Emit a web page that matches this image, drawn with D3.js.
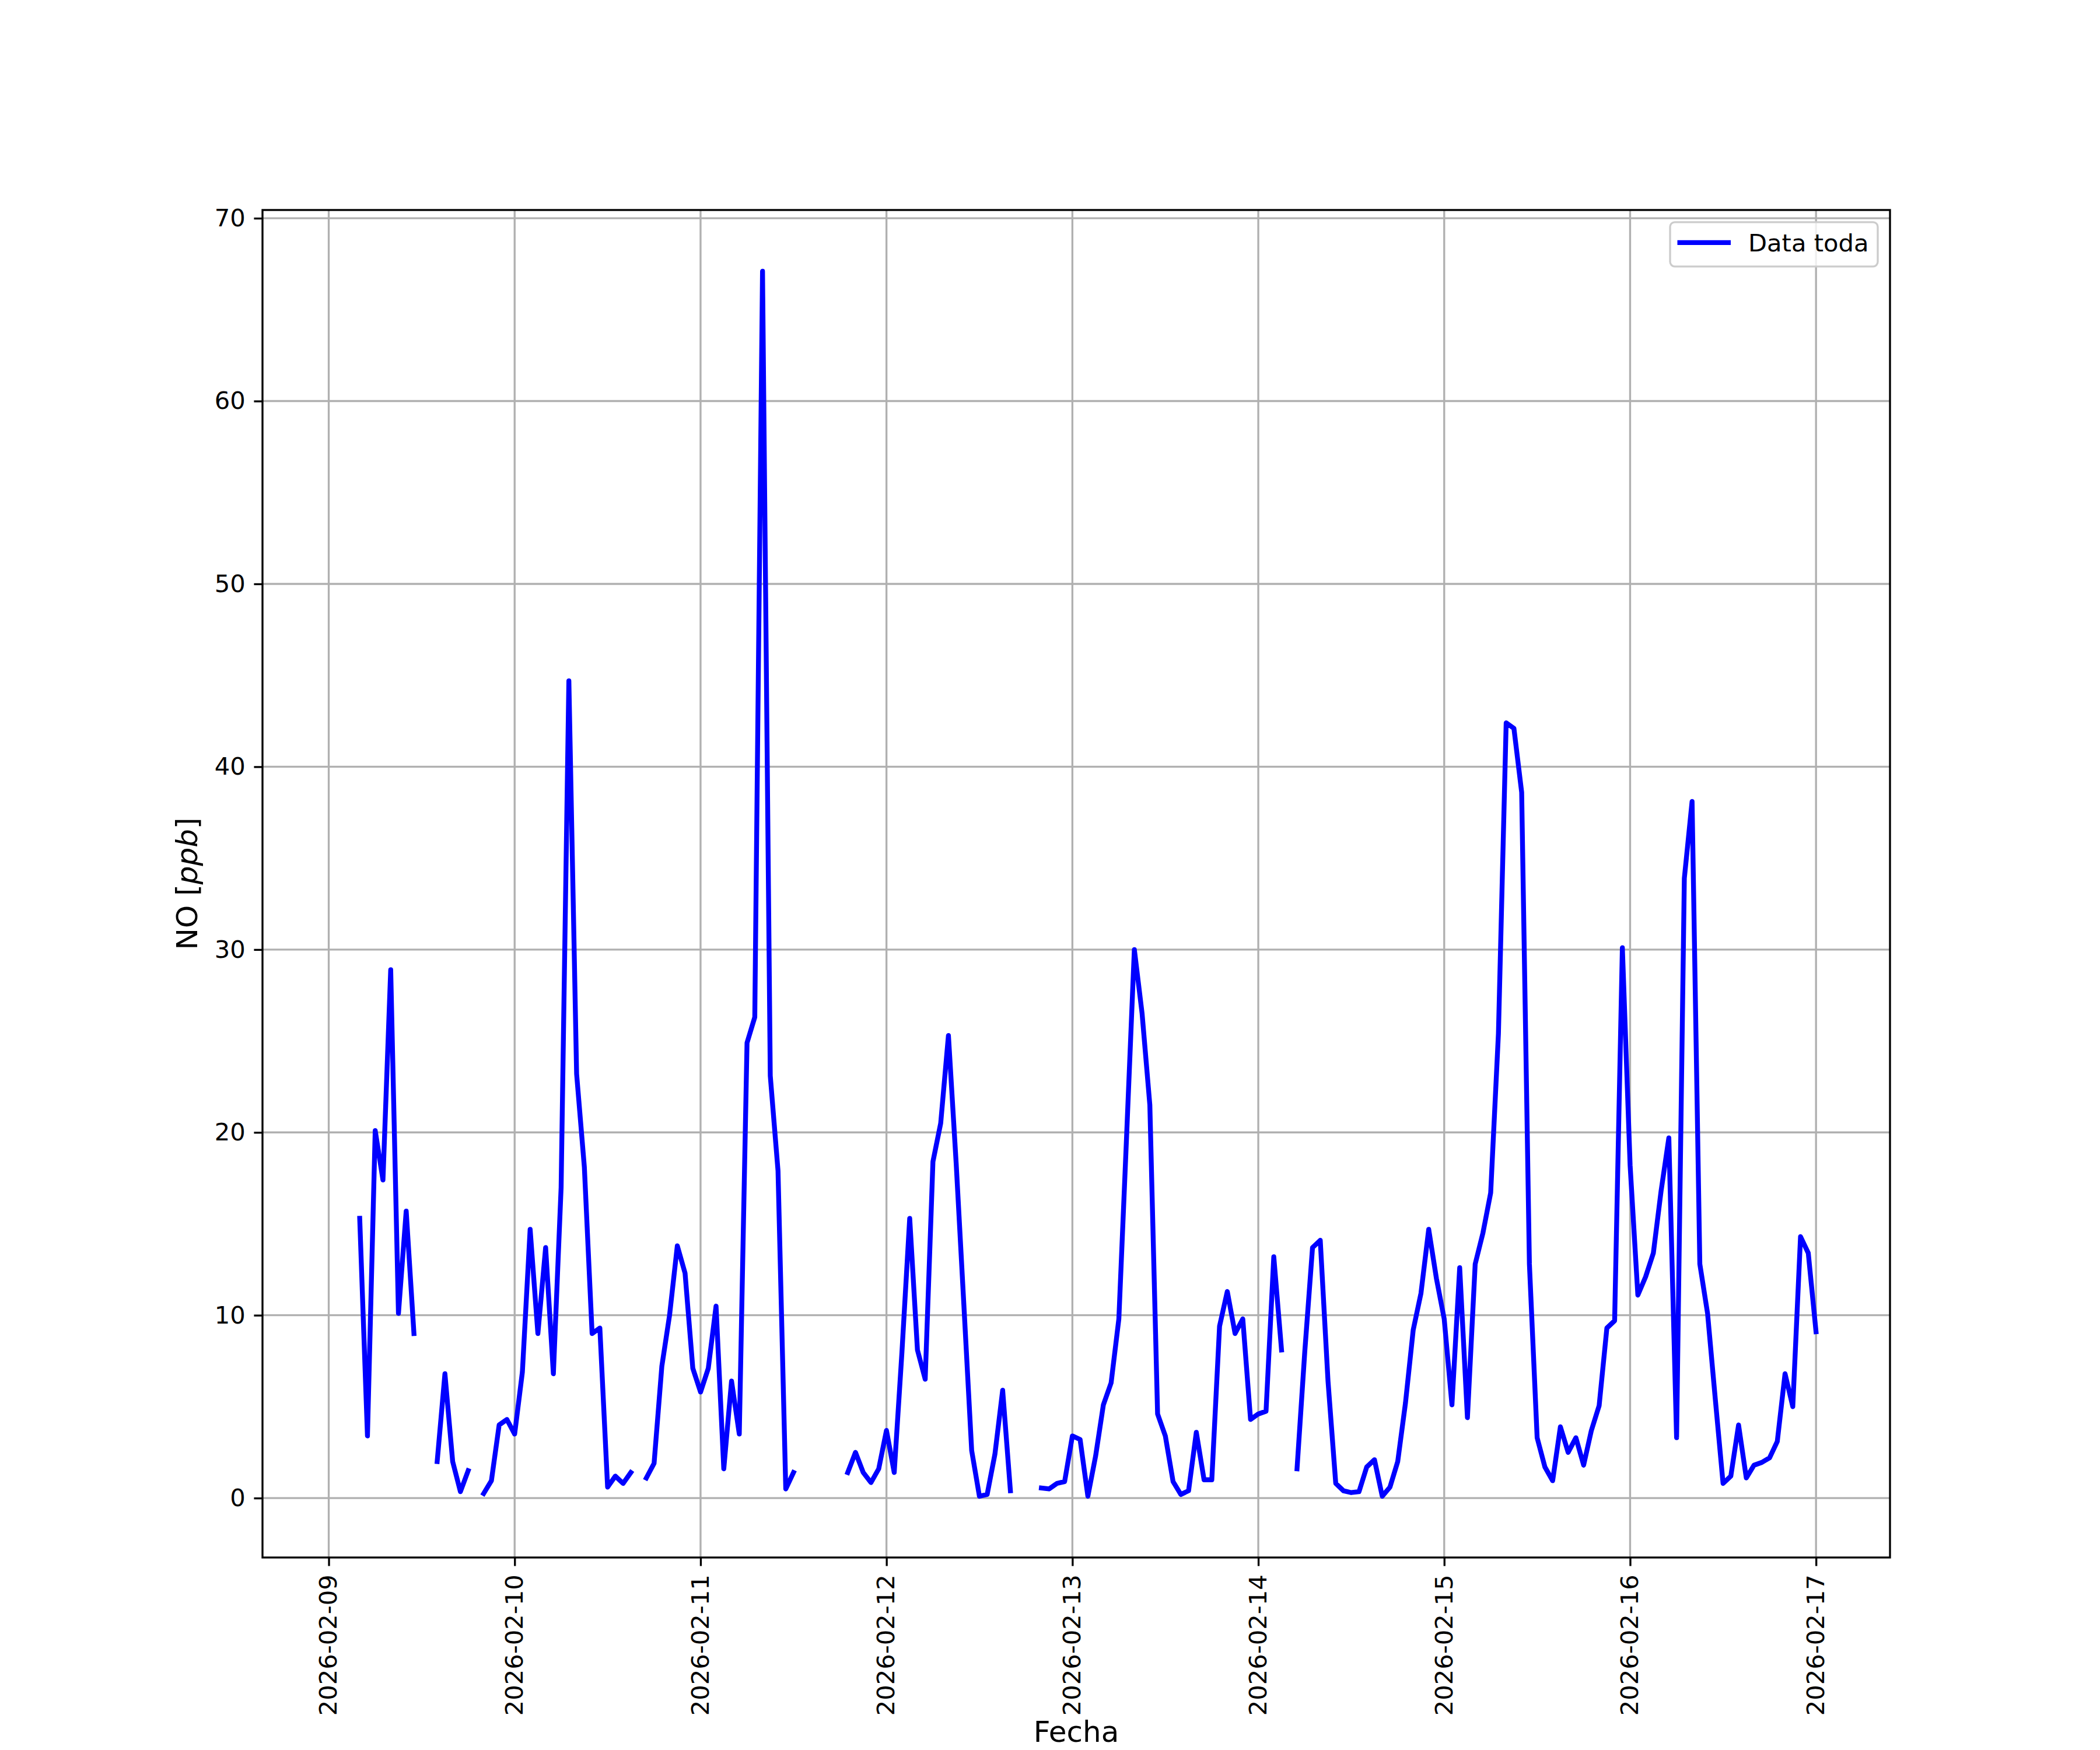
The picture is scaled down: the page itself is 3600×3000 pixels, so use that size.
<!DOCTYPE html>
<html>
<head>
<meta charset="utf-8">
<script src="https://cdn.jsdelivr.net/npm/d3@7"></script>
<style>
  body { margin: 0; background: #fff; }
  text { font-family: "DejaVu Sans", sans-serif; }
</style>
</head>
<body>
<div id="chart"></div>
<script>
// hourly NO readings, one array per day (index = hour), null = no data
let days = ['2026-02-09', '2026-02-10', '2026-02-11', '2026-02-12', '2026-02-13',
  '2026-02-14', '2026-02-15', '2026-02-16', '2026-02-17']

let feb09 = [null, null, null, null, 15.3, 3.4, 20.1, 17.4, 28.9, 10.1, 15.7, 9.0,
  null, null, 2.0, 6.8, 2.0, 0.35, 1.5, null, 0.25, 0.95, 4.0, 4.3]
let feb10 = [3.5, 6.9, 14.7, 9.0, 13.7, 6.8, 17.0, 44.7, 23.2, 18.1, 9.0, 9.3,
  0.6, 1.2, 0.8, 1.4, null, 1.1, 1.9, 7.2, 10.0, 13.8, 12.3, 7.1]
let feb11 = [5.8, 7.1, 10.5, 1.6, 6.4, 3.5, 24.9, 26.3, 67.1, 23.1, 17.9, 0.5,
  1.4, null, null, null, null, null, null, 1.4, 2.5, 1.4, 0.85, 1.6]
let feb12 = [3.7, 1.4, 8.0, 15.3, 8.1, 6.5, 18.4, 20.5, 25.3, 18.3, 10.5, 2.6,
  0.1, 0.2, 2.4, 5.9, 0.4, null, null, null, 0.55, 0.5, 0.8, 0.9]
let feb13 = [3.4, 3.2, 0.1, 2.3, 5.1, 6.3, 9.8, 19.8, 30.0, 26.5, 21.5, 4.6,
  3.4, 0.9, 0.2, 0.4, 3.6, 1.0, 1.0, 9.4, 11.3, 9.0, 9.8, 4.3]
let feb14 = [4.6, 4.75, 13.2, 8.1, null, 1.6, 8.0, 13.7, 14.1, 6.4, 0.8, 0.4,
  0.3, 0.35, 1.7, 2.1, 0.1, 0.6, 2.0, 5.2, 9.2, 11.2, 14.7, 12.0]
let feb15 = [9.8, 5.1, 12.6, 4.4, 12.8, 14.5, 16.7, 25.4, 42.4, 42.1, 38.6, 12.8,
  3.3, 1.7, 0.95, 3.9, 2.5, 3.3, 1.8, 3.7, 5.05, 9.3, 9.7, 30.1]
let feb16 = [18.2, 11.1, 12.1, 13.4, 16.8, 19.7, 3.3, 33.9, 38.1, 12.8, 10.1, 5.4,
  0.8, 1.2, 4.0, 1.1, 1.8, 1.95, 2.2, 3.1, 6.8, 5.0, 14.3, 13.4]
let feb17 = [9.1]

// time span of the logged series (first stamp has no value)
let seriesSpan = ['2026-02-09T01:00', '2026-02-17T00:00']

let yTicks = [0, 10, 20, 30, 40, 50, 60, 70]
let legendLabel = 'Data toda'

let pt = 300 / 72
let W = 3600
let H = 3000
let margin = { top: 360, bottom: 330, left: 450, right: 360 }
let width = W - margin.left - margin.right
let height = H - margin.top - margin.bottom

let parseTime = d3.utcParse('%Y-%m-%dT%H:%M')
let parseDay = d3.utcParse('%Y-%m-%d')

let dayValues = [feb09, feb10, feb11, feb12, feb13, feb14, feb15, feb16, feb17]
let datapoints = []
days.forEach((day, i) => {
  dayValues[i].forEach((v, h) => {
    datapoints.push({ t: d3.utcHour.offset(parseDay(day), h), v: v })
  })
})

let svg = d3
  .select('#chart')
  .append('svg')
  .attr('width', W)
  .attr('height', H)

svg.append('rect').attr('width', W).attr('height', H).attr('fill', '#fff')

let g = svg.append('g').attr('transform', `translate(${margin.left},${margin.top})`)

// matplotlib-like 5% padding
let t0 = parseTime(seriesSpan[0])
let t1 = parseTime(seriesSpan[1])
let tPad = (t1 - t0) * 0.05
let xPositionScale = d3
  .scaleUtc()
  .domain([new Date(+t0 - tPad), new Date(+t1 + tPad)])
  .range([0, width])

let vals = datapoints.filter(d => d.v != null).map(d => d.v)
let vMin = d3.min(vals)
let vMax = d3.max(vals)
let vPad = (vMax - vMin) * 0.05
let yPositionScale = d3
  .scaleLinear()
  .domain([vMin - vPad, vMax + vPad])
  .range([height, 0])

let xTicks = days.map(d => parseDay(d))

// grid
g.append('g')
  .selectAll('line')
  .data(xTicks)
  .enter()
  .append('line')
  .attr('x1', d => xPositionScale(d))
  .attr('x2', d => xPositionScale(d))
  .attr('y1', 0)
  .attr('y2', height)
  .attr('stroke', '#b0b0b0')
  .attr('stroke-width', 0.8 * pt)

g.append('g')
  .selectAll('line')
  .data(yTicks)
  .enter()
  .append('line')
  .attr('x1', 0)
  .attr('x2', width)
  .attr('y1', d => yPositionScale(d))
  .attr('y2', d => yPositionScale(d))
  .attr('stroke', '#b0b0b0')
  .attr('stroke-width', 0.8 * pt)

// series
let line = d3
  .line()
  .defined(d => d.v != null)
  .x(d => xPositionScale(d.t))
  .y(d => yPositionScale(d.v))

g.append('path')
  .datum(datapoints)
  .attr('d', line)
  .attr('fill', 'none')
  .attr('stroke', '#0000ff')
  .attr('stroke-width', 2 * pt)
  .attr('stroke-linejoin', 'round')
  .attr('stroke-linecap', 'square')

// axes
let tickLen = 3.5 * pt
let tickPad = 3.5 * pt
let fontSize = 10 * pt

let xAxis = d3
  .axisBottom(xPositionScale)
  .tickValues(xTicks)
  .tickFormat(d3.utcFormat('%Y-%m-%d'))
  .tickSizeInner(tickLen)
  .tickSizeOuter(0)

let xg = g.append('g').attr('transform', `translate(0,${height})`).call(xAxis)
xg.select('.domain').remove()
xg.selectAll('line').attr('stroke', '#000').attr('stroke-width', 0.8 * pt)
xg.selectAll('text')
  .attr('font-family', 'DejaVu Sans')
  .attr('font-size', fontSize)
  .attr('fill', '#000')
  .attr('transform', 'rotate(-90)')
  .attr('text-anchor', 'end')
  .attr('x', -(tickLen + tickPad))
  .attr('y', 0)
  .attr('dy', '0.32em')

let yAxis = d3
  .axisLeft(yPositionScale)
  .tickValues(yTicks)
  .tickSizeInner(tickLen)
  .tickSizeOuter(0)
  .tickPadding(tickPad)

let yg = g.append('g').call(yAxis)
yg.select('.domain').remove()
yg.selectAll('line').attr('stroke', '#000').attr('stroke-width', 0.8 * pt)
yg.selectAll('text')
  .attr('font-family', 'DejaVu Sans')
  .attr('font-size', fontSize)
  .attr('fill', '#000')

// spines
g.append('rect')
  .attr('width', width)
  .attr('height', height)
  .attr('fill', 'none')
  .attr('stroke', '#000')
  .attr('stroke-width', 0.8 * pt)

// axis labels
g.append('text')
  .text('Fecha')
  .attr('x', width / 2)
  .attr('y', H - margin.top - 14)
  .attr('text-anchor', 'middle')
  .attr('font-size', 12 * pt)
  .attr('fill', '#000')

let ylab = g.append('text')
  .attr('transform', `translate(${-112},${height / 2}) rotate(-90)`)
  .attr('text-anchor', 'middle')
  .attr('font-size', 12 * pt)
  .attr('fill', '#000')
ylab.append('tspan').text('NO [')
ylab.append('tspan').text('ppb').attr('font-style', 'italic')
ylab.append('tspan').text(']')

// legend
let legend = g.append('g').attr('transform', `translate(${width - 377},${20.8})`)
legend.append('rect')
  .attr('width', 356)
  .attr('height', 76)
  .attr('rx', 8)
  .attr('fill', '#fff')
  .attr('fill-opacity', 0.8)
  .attr('stroke', '#cccccc')
  .attr('stroke-width', 0.8 * pt)
legend.append('line')
  .attr('x1', 12.5)
  .attr('x2', 104)
  .attr('y1', 35)
  .attr('y2', 35)
  .attr('stroke', '#0000ff')
  .attr('stroke-width', 2 * pt)
legend.append('text')
  .text(legendLabel)
  .attr('x', 134)
  .attr('y', 35)
  .attr('dy', '0.36em')
  .attr('font-size', fontSize)
  .attr('fill', '#000')
</script>
</body>
</html>
